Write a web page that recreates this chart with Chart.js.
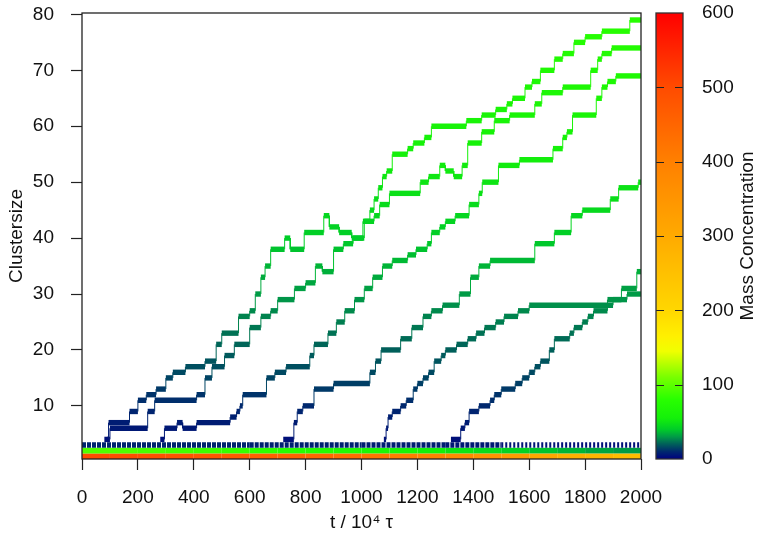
<!DOCTYPE html>
<html><head><meta charset="utf-8">
<script src="https://cdn.jsdelivr.net/npm/chart.js@4.4.0/dist/chart.umd.min.js"></script>
<style>
html,body{margin:0;padding:0;background:#fff;}
#wrap{position:relative;width:762px;height:541px;overflow:hidden;}
#main{position:absolute;left:0;top:0;}
#cbar{position:absolute;left:641px;top:0;}
</style></head><body>
<div id="wrap">
<canvas id="main" width="762" height="541"></canvas>
<canvas id="cbar" width="121" height="541"></canvas>
</div>
<script>
// ---------------- data ----------------
const xTicks = [0,200,400,600,800,1000,1200,1400,1600,1800,2000];
const yTicks = [10,20,30,40,50,60,70,80];
const cbTicks = [0,100,200,300,400,500,600];
const xTitle = 't / 10\u2074 \u03c4';
const yTitle = 'Clustersize';
const cbTitle = 'Mass Concentration';

// background bands (cluster sizes 1,2,3): concentration vs time
const bandT      = [0,100,200,300,400,500,600,700,800,900,1000,1100,1200,1300,1400,1500,1600,1700,1800,1900,2000];
const monomerConc= [500,495,490,485,478,470,460,452,445,435,420,405,390,375,355,335,310,290,275,260,245];
const dimerConc  = [95,95,92,90,88,85,82,78,75,70,65,60,55,50,46,42,38,35,32,30,28];
const trimerConc = [9,9,9,9,9,9,8,8,8,8,7,7,7,6,6,5,5,4,4,4,4];

// growing clusters: plateau start times and sizes
const clusterA_t = [80,95,170,200,230,265,300,325,370,440,480,500,560,600,620,640,655,675,725,745,795,865,885,920,965,1010,1030,1045,1060,1075,1090,1110,1165,1185,1225,1250,1375,1430,1480,1520,1540,1585,1610,1640,1690,1720,1760,1800,1860,1960];
const clusterA_s = [4,7,9,11,12,13,15,16,17,18,21,23,26,27,30,33,35,38,40,38,41,44,42,41,40,43,45,47,49,51,52,55,56,57,58,60,61,62,63,64,65,67,68,70,72,73,75,76,77,79];

const clusterB_t = [90,100,235,260,410,440,465,510,545,600,640,675,700,760,800,835,860,900,935,970,1005,1045,1065,1100,1210,1240,1280,1300,1330,1360,1380,1430,1475,1530,1620,1645,1720,1820,1845,1860,1895];
const clusterB_s = [4,6,9,11,12,15,17,19,21,24,26,27,29,31,32,35,34,38,39,40,43,44,46,48,50,51,53,52,51,53,57,59,61,62,64,66,67,70,72,73,74];

const clusterC_t = [280,295,340,360,410,530,553,565,575,660,690,730,815,830,880,910,940,975,1010,1040,1075,1110,1165,1195,1235,1250,1280,1300,1335,1385,1420,1432,1490,1565,1685,1720,1735,1755,1840,1860,1880,1910];
const clusterC_s = [4,6,7,6,7,8,9,10,12,15,16,17,19,21,23,25,27,29,31,33,35,36,37,38,39,41,42,43,44,46,48,50,53,54,56,58,59,62,65,67,68,69];

const clusterD_t = [720,758,770,790,830,900,1030,1050,1070,1140,1180,1220,1250,1290,1350,1390,1420,1460,1620,1690,1750,1790,1890,1920,1990];
const clusterD_s = [4,7,9,10,13,14,16,18,20,22,24,26,27,28,30,33,35,36,39,41,44,45,47,49,50];

const clusterE_t = [1080,1088,1095,1110,1140,1160,1185,1200,1220,1240,1260,1285,1300,1340,1380,1410,1440,1480,1510,1560,1600,1900,1950];
const clusterE_s = [4,6,8,9,10,11,13,14,15,16,18,19,20,21,22,23,24,25,26,27,28,29,30];

const clusterF_t = [1320,1355,1370,1385,1420,1460,1475,1500,1550,1575,1600,1620,1640,1672,1690,1745,1760,1790,1810,1830,1880,1930,1985];
const clusterF_s = [4,6,7,9,10,11,12,13,14,15,16,17,18,20,22,23,24,25,26,27,29,31,34];

// ---------------- colour palette ----------------
const palStops = [[0,[0,0,128]],[10,[0,40,110]],[20,[0,95,90]],[30,[0,155,70]],[40,[0,205,40]],[55,[20,240,10]],[80,[40,255,0]],[110,[120,255,0]],[145,[240,255,0]],[165,[255,240,0]],[200,[255,215,0]],[300,[255,170,0]],[400,[255,128,0]],[500,[255,75,0]],[600,[255,0,0]]];
function pal(v){
  if (v <= palStops[0][0]) return 'rgb(' + palStops[0][1].join(',') + ')';
  for (let i = 1; i < palStops.length; i++) {
    if (v <= palStops[i][0]) {
      const [v0,c0] = palStops[i-1], [v1,c1] = palStops[i];
      const f = (v - v0) / (v1 - v0);
      return 'rgb(' + c0.map((c,k)=>Math.round(c + (c1[k]-c)*f)).join(',') + ')';
    }
  }
  return 'rgb(255,0,0)';
}

const FONT = {family:"'Liberation Sans', Arial, Helvetica, sans-serif", size:19};
const TMAX = xTicks[xTicks.length-1];
const plain = v => String(v);

function clusterDataset(T, S){
  const pts = [];
  for (let i = 0; i < T.length; i++) {
    const tEnd = i + 1 < T.length ? T[i+1] : TMAX;
    pts.push({x:T[i], y:S[i]}, {x:tEnd, y:S[i]});
  }
  return {
    data: pts, showLine: true, pointRadius: 0, borderWidth: 1, borderColor: pal(S[0]),
    segment: {
      borderWidth: c => c.p0.parsed.y === c.p1.parsed.y ? 5.4 : 1,
      borderColor: c => pal(Math.max(c.p0.parsed.y, c.p1.parsed.y))
    }
  };
}
function bandDataset(level, conc, width, dashFn){
  return {
    data: bandT.map(t => ({x:t, y:level})), showLine: true, pointRadius: 0,
    borderWidth: width, borderColor: pal(conc[0]),
    segment: {
      borderColor: c => pal(conc[c.p0DataIndex]),
      borderWidth: () => width,
      borderDash: dashFn || (() => [])
    }
  };
}

const framePlugin = {
  id: 'frame',
  afterDraw(chart){
    const {ctx, chartArea:a} = chart;
    ctx.save();
    ctx.strokeStyle = '#222'; ctx.lineWidth = 1.3;
    ctx.strokeRect(a.left, a.top, a.right - a.left, a.bottom - a.top);
    ctx.restore();
  }
};

new Chart(document.getElementById('main'), {
  type: 'scatter',
  data: { datasets: [
    clusterDataset(clusterA_t, clusterA_s),
    clusterDataset(clusterB_t, clusterB_s),
    clusterDataset(clusterC_t, clusterC_s),
    clusterDataset(clusterD_t, clusterD_s),
    clusterDataset(clusterE_t, clusterE_s),
    clusterDataset(clusterF_t, clusterF_s),
    bandDataset(3, trimerConc, 5.6, c => c.p0.parsed.x < 1450 ? [4,1] : [2,2]),
    bandDataset(2, dimerConc, 5.6),
    bandDataset(1, monomerConc, 5.6)
  ]},
  options: {
    responsive: false, animation: false, devicePixelRatio: 1, events: [],
    layout: { padding: {left:0, right:121, top:13, bottom:0} },
    plugins: { legend: {display:false}, tooltip: {enabled:false} },
    scales: {
      x: {
        type: 'linear', min: 0, max: TMAX,
        afterBuildTicks: s => { s.ticks = xTicks.map(v => ({value:v})); },
        afterFit: s => { s.height = 82; s.paddingLeft = 0; s.paddingRight = 0; },
        grid: {drawOnChartArea:false, drawTicks:true, tickLength:11, tickColor:'#222', tickWidth:1.2},
        border: {display:false},
        ticks: {color:'#111', font:FONT, padding:16, maxRotation:0, autoSkip:false, callback: plain},
        title: {display:true, text:xTitle, color:'#111', font:FONT, padding:{top:0, bottom:7}}
      },
      y: {
        type: 'linear', min: 0.5, max: 80.25,
        afterBuildTicks: s => { s.ticks = yTicks.map(v => ({value:v})); },
        afterFit: s => { s.width = 82; s.paddingTop = 0; s.paddingBottom = 0; },
        grid: {drawOnChartArea:false, drawTicks:true, tickLength:11, tickColor:'#222', tickWidth:1.2},
        border: {display:false},
        ticks: {color:'#111', font:FONT, padding:17, autoSkip:false, callback: plain},
        title: {display:true, text:yTitle, color:'#111', font:FONT, padding:{top:5, bottom:0}}
      }
    }
  },
  plugins: [framePlugin]
});

const colorbarPlugin = {
  id: 'cbfill',
  beforeDraw(chart){
    const {ctx, chartArea:a, scales:{y}} = chart;
    const y0 = y.getPixelForValue(cbTicks[0]), y1 = y.getPixelForValue(cbTicks[cbTicks.length-1]);
    const g = ctx.createLinearGradient(0, y0, 0, y1);
    const vmax = cbTicks[cbTicks.length-1];
    palStops.forEach(([v,c]) => g.addColorStop(v / vmax, 'rgb(' + c.join(',') + ')'));
    ctx.save();
    ctx.fillStyle = g;
    ctx.fillRect(a.left, a.top, a.right - a.left, a.bottom - a.top);
    ctx.strokeStyle = '#222'; ctx.lineWidth = 1.2;
    cbTicks.forEach(v => {
      if (v > cbTicks[0] && v < vmax) {
        const py = Math.round(y.getPixelForValue(v)) + 0.5;
        ctx.beginPath();
        ctx.moveTo(a.left, py); ctx.lineTo(a.left + 8, py);
        ctx.moveTo(a.right - 8, py); ctx.lineTo(a.right, py);
        ctx.stroke();
      }
    });
    ctx.strokeStyle = '#333'; ctx.lineWidth = 1.3;
    ctx.strokeRect(a.left, a.top, a.right - a.left, a.bottom - a.top);
    ctx.translate(107, (a.top + a.bottom) / 2);
    ctx.rotate(-Math.PI / 2);
    ctx.font = FONT.size + 'px ' + FONT.family;
    ctx.fillStyle = '#111'; ctx.textAlign = 'center'; ctx.textBaseline = 'middle';
    ctx.fillText(cbTitle, 0, 0);
    ctx.restore();
  }
};

new Chart(document.getElementById('cbar'), {
  type: 'scatter',
  data: { datasets: [] },
  options: {
    responsive: false, animation: false, devicePixelRatio: 1, events: [],
    layout: { padding: {left:15, right:0, top:13, bottom:82} },
    plugins: { legend: {display:false}, tooltip: {enabled:false} },
    scales: {
      x: { display:false, min:0, max:1 },
      y: {
        position: 'right', min: cbTicks[0], max: cbTicks[cbTicks.length-1],
        afterBuildTicks: s => { s.ticks = cbTicks.map(v => ({value:v})); },
        afterFit: s => { s.width = 79; s.paddingTop = 0; s.paddingBottom = 0; },
        grid: {display:true, drawOnChartArea:false, drawTicks:false},
        border: {display:false},
        ticks: {color:'#111', font:FONT, padding:19, autoSkip:false, callback: plain}
      }
    }
  },
  plugins: [colorbarPlugin]
});
</script>
</body></html>
